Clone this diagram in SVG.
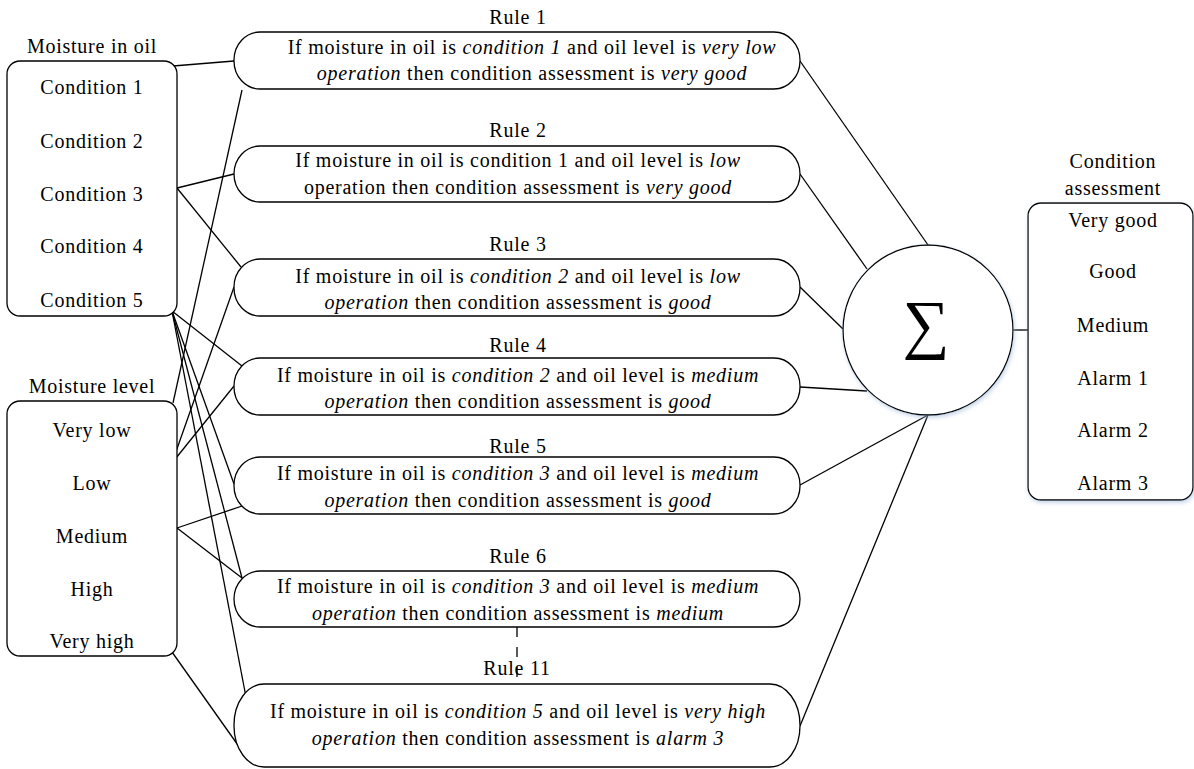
<svg xmlns="http://www.w3.org/2000/svg" width="1194" height="769" viewBox="0 0 1194 769" font-family="'Liberation Serif', 'DejaVu Serif', serif">
<style>
text{font-family:'Liberation Serif','Tinos','DejaVu Serif',serif;font-size:20px;letter-spacing:0.75px;fill:#000;text-anchor:middle}
.i{font-style:italic}
.box{fill:#fff;stroke:#000;stroke-width:1.3}
.c line{stroke:#000;stroke-width:1.3}
.sig{font-size:66px;letter-spacing:0}
</style>
<defs>
<filter id="sh" x="-10%" y="-10%" width="130%" height="130%">
<feDropShadow dx="1" dy="2" stdDeviation="2" flood-color="#9db8d8" flood-opacity="0.6"/>
</filter>
</defs>
<g class="c" id="connectors">
<line x1="173" y1="66" x2="234" y2="61"/>
<line x1="177" y1="188" x2="234" y2="174"/>
<line x1="177" y1="188" x2="241" y2="267"/>
<line x1="242" y1="90" x2="173" y2="403"/>
<line x1="234" y1="287" x2="172" y2="463"/>
<line x1="234" y1="386" x2="172" y2="463"/>
<line x1="172" y1="311" x2="242" y2="366"/>
<line x1="172" y1="311" x2="234" y2="484"/>
<line x1="172" y1="311" x2="242" y2="578"/>
<line x1="172" y1="311" x2="246" y2="697"/>
<line x1="177" y1="528" x2="242" y2="506"/>
<line x1="177" y1="528" x2="242" y2="578"/>
<line x1="172" y1="652" x2="240" y2="748"/>
<line x1="800" y1="61" x2="928" y2="245"/>
<line x1="800" y1="174" x2="867" y2="269"/>
<line x1="800" y1="287" x2="843" y2="329"/>
<line x1="800" y1="387" x2="867" y2="391"/>
<line x1="800" y1="485" x2="928" y2="415"/>
<line x1="800" y1="726" x2="928" y2="415"/>
<line x1="1013" y1="330" x2="1028" y2="330"/>
<line x1="517" y1="627" x2="517" y2="684" stroke-dasharray="10 10"/>
</g>
<g id="moisture-in-oil">
<text x="92" y="53">Moisture in oil</text>
<rect class="box" x="7" y="61" width="170" height="255" rx="13"/>
<text x="92" y="94">Condition 1</text>
<text x="92" y="148">Condition 2</text>
<text x="92" y="201">Condition 3</text>
<text x="92" y="253">Condition 4</text>
<text x="92" y="307">Condition 5</text>
</g>
<g id="moisture-level">
<text x="92" y="393">Moisture level</text>
<rect class="box" x="7" y="401" width="170" height="255" rx="13"/>
<text x="92" y="437">Very low</text>
<text x="92" y="490">Low</text>
<text x="92" y="543">Medium</text>
<text x="92" y="596">High</text>
<text x="92" y="648">Very high</text>
</g>
<g id="rule1">
<text x="518" y="24">Rule 1</text>
<rect class="box" x="234" y="32" width="566" height="57" rx="26" ry="28"/>
<text x="532" y="54">If moisture in oil is <tspan class="i">condition 1</tspan> and oil level is <tspan class="i">very low</tspan></text>
<text x="532" y="80"><tspan class="i">operation</tspan> then condition assessment is <tspan class="i">very good</tspan></text>
</g>
<g id="rule2">
<text x="518" y="137">Rule 2</text>
<rect class="box" x="234" y="146" width="566" height="56" rx="26" ry="28"/>
<text x="518" y="167">If moisture in oil is condition 1 and oil level is <tspan class="i">low</tspan></text>
<text x="518" y="194">operation then condition assessment is <tspan class="i">very good</tspan></text>
</g>
<g id="rule3">
<text x="518" y="251">Rule 3</text>
<rect class="box" x="234" y="259" width="566" height="57" rx="26" ry="28"/>
<text x="518" y="283">If moisture in oil is <tspan class="i">condition 2</tspan> and oil level is <tspan class="i">low</tspan></text>
<text x="518" y="309"><tspan class="i">operation</tspan> then condition assessment is <tspan class="i">good</tspan></text>
</g>
<g id="rule4">
<text x="518" y="352">Rule 4</text>
<rect class="box" x="234" y="358" width="566" height="57" rx="26" ry="28"/>
<text x="518" y="382">If moisture in oil is <tspan class="i">condition 2</tspan> and oil level is <tspan class="i">medium</tspan></text>
<text x="518" y="408"><tspan class="i">operation</tspan> then condition assessment is <tspan class="i">good</tspan></text>
</g>
<g id="rule5">
<text x="518" y="453">Rule 5</text>
<rect class="box" x="234" y="457" width="566" height="57" rx="26" ry="28"/>
<text x="518" y="480">If moisture in oil is <tspan class="i">condition 3</tspan> and oil level is <tspan class="i">medium</tspan></text>
<text x="518" y="507"><tspan class="i">operation</tspan> then condition assessment is <tspan class="i">good</tspan></text>
</g>
<g id="rule6">
<text x="518" y="563">Rule 6</text>
<rect class="box" x="234" y="571" width="566" height="56" rx="26" ry="28"/>
<text x="518" y="593">If moisture in oil is <tspan class="i">condition 3</tspan> and oil level is <tspan class="i">medium</tspan></text>
<text x="518" y="620"><tspan class="i">operation</tspan> then condition assessment is <tspan class="i">medium</tspan></text>
</g>
<g id="rule11">
<text x="517" y="675">Rule 11</text>
<rect class="box" x="234" y="684" width="566" height="83" rx="30" ry="41"/>
<text x="518" y="718">If moisture in oil is <tspan class="i">condition 5</tspan> and oil level is <tspan class="i">very high</tspan></text>
<text x="518" y="745"><tspan class="i">operation</tspan> then condition assessment is <tspan class="i">alarm 3</tspan></text>
</g>
<g id="sum">
<circle class="box" cx="928" cy="330" r="85" filter="url(#sh)"/>
<text class="sig" x="926" y="346">∑</text>
</g>
<g id="condition-assessment">
<text x="1113" y="168">Condition</text>
<text x="1113" y="195">assessment</text>
<rect class="box" x="1028" y="203" width="165" height="297" rx="13" filter="url(#sh)"/>
<text x="1113" y="227">Very good</text>
<text x="1113" y="278">Good</text>
<text x="1113" y="332">Medium</text>
<text x="1113" y="385">Alarm 1</text>
<text x="1113" y="437">Alarm 2</text>
<text x="1113" y="490">Alarm 3</text>
</g>
</svg>
